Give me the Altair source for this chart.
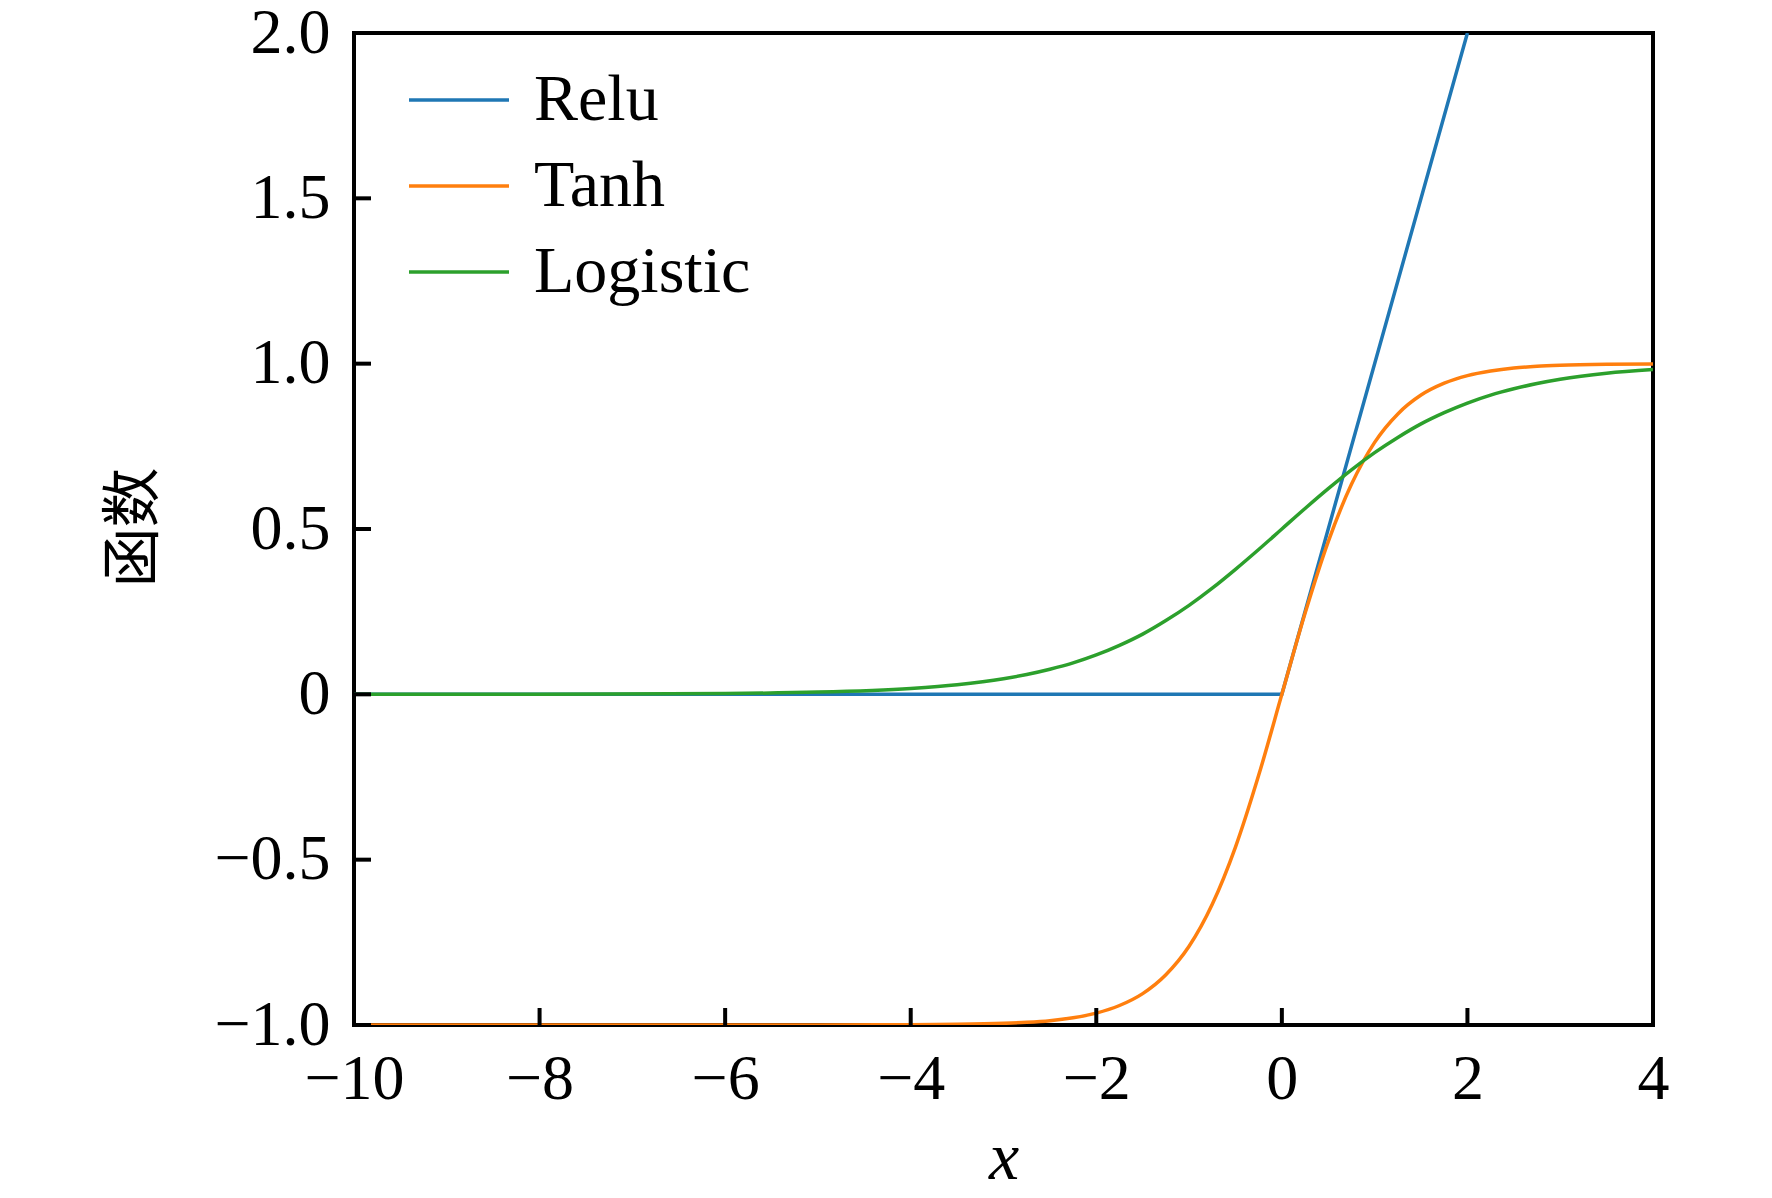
import altair as alt
import pandas as pd

# ---- data ----
x_smooth = [-10, -8, -6, -5, -4, -3.5, -3, -2.75, -2.5, -2.25, -2, -1.75, -1.5, -1.25,
            -1, -0.75, -0.5, -0.25, 0, 0.25, 0.5, 0.75, 1, 1.25, 1.5, 1.75, 2, 2.25,
            2.5, 2.75, 3, 3.5, 4]
tanh_y = [-1.0, -1.0, -1.0, -1.0, -0.999, -0.998, -0.995, -0.992, -0.987, -0.978, -0.964,
          -0.941, -0.905, -0.848, -0.762, -0.635, -0.462, -0.245, 0.0, 0.245, 0.462, 0.635,
          0.762, 0.848, 0.905, 0.941, 0.964, 0.978, 0.987, 0.992, 0.995, 0.998, 0.999]
logistic_y = [0.00005, 0.0003, 0.0025, 0.0067, 0.018, 0.029, 0.047, 0.060, 0.076, 0.095,
              0.119, 0.148, 0.182, 0.223, 0.269, 0.321, 0.378, 0.438, 0.5, 0.562, 0.622,
              0.679, 0.731, 0.777, 0.818, 0.852, 0.881, 0.905, 0.924, 0.940, 0.953, 0.971,
              0.982]
relu_x = [-10, 0, 2]
relu_y = [0, 0, 2]

series = ["Relu", "Tanh", "Logistic"]
colors = ["#1f77b4", "#ff7f0e", "#2ca02c"]

x_ticks = [-10, -8, -6, -4, -2, 0, 2, 4]
y_ticks = [-1.0, -0.5, 0.0, 0.5, 1.0, 1.5, 2.0]

x_title = "x"
y_title = "函数"

# ---- build tables ----
relu_df = pd.DataFrame({"x": relu_x, "y": relu_y, "s": "Relu"})
tanh_df = pd.DataFrame({"x": x_smooth, "y": tanh_y, "s": "Tanh"})
log_df = pd.DataFrame({"x": x_smooth, "y": logistic_y, "s": "Logistic"})

W, H = 1299, 992
FONT = "Liberation Serif"
FS = 64
TICK = 17
LW = 3.5

xscale = alt.Scale(domain=[-10, 4], nice=False, zero=False)
yscale = alt.Scale(domain=[-1, 2], nice=False, zero=False)

x_axis = alt.Axis(values=x_ticks, ticks=False, tickSize=0, domain=False, grid=False,
                  labelFont=FONT, labelFontSize=FS, labelColor="black",
                  labelPadding=22, labelFlush=False,
                  labelExpr="replace(format(datum.value, 'd'), '-', '−')",
                  title=x_title, titleFont=FONT, titleFontSize=FS + 4,
                  titleFontStyle="italic", titleFontWeight="normal",
                  titleColor="black", titleX=W / 2, titleY=153,
                  titleBaseline="alphabetic", titleAlign="center")
y_axis = alt.Axis(values=y_ticks, ticks=False, tickSize=0, domain=False, grid=False,
                  labelFont=FONT, labelFontSize=FS, labelColor="black",
                  labelPadding=24, labelFlush=False,
                  labelExpr="datum.value == 0 ? '0' : replace(format(datum.value, '.1f'), '-', '−')",
                  title=y_title, titleFont="Noto Sans CJK SC", titleFontSize=60,
                  titleFontWeight="normal", titleColor="black",
                  titleAngle=270, titleX=-220, titleY=H / 2 - 2,
                  titleBaseline="middle", titleAlign="center")

color = alt.Color("s:N", scale=alt.Scale(domain=series, range=colors),
                  legend=alt.Legend(title=None, orient="none", legendX=72, legendY=34,
                                    symbolType="M-2,0H2", symbolSize=2500,
                                    symbolStrokeWidth=LW, labelFont=FONT,
                                    labelFontSize=FS + 2, labelColor="black",
                                    labelOffset=42, rowPadding=20, padding=0,
                                    labelLimit=0))


def line_layer(d, interp):
    return alt.Chart(d).mark_line(strokeWidth=LW, clip=True, interpolate=interp).encode(
        x=alt.X("x:Q", scale=xscale, axis=x_axis, title=x_title),
        y=alt.Y("y:Q", scale=yscale, axis=y_axis, title=y_title),
        color=color,
    )


relu = line_layer(relu_df, "linear")
tanh = line_layer(tanh_df, "monotone")
logi = line_layer(log_df, "monotone")

xt = alt.Chart(pd.DataFrame({"x": x_ticks})).mark_rule(color="black", strokeWidth=4).encode(
    x=alt.X("x:Q", scale=xscale, axis=x_axis, title=x_title),
    y=alt.value(H), y2=alt.value(H - TICK),
)
yt = alt.Chart(pd.DataFrame({"y": y_ticks})).mark_rule(color="black", strokeWidth=4).encode(
    y=alt.Y("y:Q", scale=yscale, axis=y_axis, title=y_title),
    x=alt.value(0), x2=alt.value(TICK),
)

chart = alt.layer(relu, tanh, logi, xt, yt).properties(
    width=W, height=H,
    background="white",
    autosize=alt.AutoSizeParams(type="none"),
    padding={"left": 346, "top": 25, "right": 100, "bottom": 175},
).configure_view(stroke="black", strokeWidth=4)

chart.save("out.html", embed_options={"renderer": "svg", "actions": False})
